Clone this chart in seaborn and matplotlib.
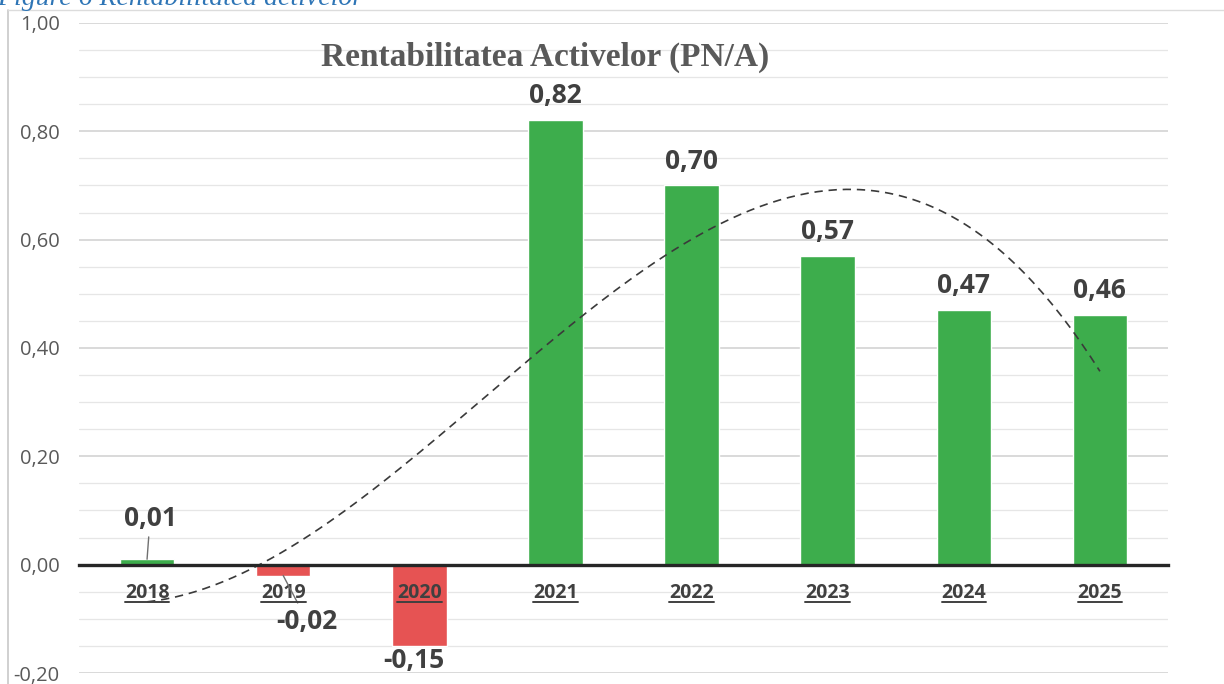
import numpy as np
import pandas as pd
import seaborn as sns
import matplotlib.pyplot as plt
from matplotlib.lines import Line2D
from matplotlib.ticker import MultipleLocator, FixedLocator, FuncFormatter

# data
years = ['2018', '2019', '2020', '2021', '2022', '2023', '2024', '2025']
roa = [0.01, -0.02, -0.15, 0.82, 0.70, 0.57, 0.47, 0.46]
value_labels = ['0,01', '-0,02', '-0,15', '0,82', '0,70', '0,57', '0,47', '0,46']

df = pd.DataFrame({'an': years, 'roa': roa})
df['semn'] = np.where(df['roa'] >= 0, 'pozitiv', 'negativ')

sns.set_theme(style='white')
plt.rcParams['font.family'] = ['Open Sans', 'DejaVu Sans']

W, H = 1224, 684
fig = plt.figure(figsize=(W / 100, H / 100), dpi=100)
fig.patch.set_facecolor('white')
ax = fig.add_axes([79 / W, 11 / H, 1089 / W, 650 / H])

green = '#3DAD4C'
red = '#E65353'
grey_txt = '#595959'
dark_txt = '#404040'

sns.barplot(data=df, x='an', y='roa', hue='semn',
            palette={'pozitiv': green, 'negativ': red},
            width=0.4, legend=False, dodge=False, ax=ax, saturation=1)

# polynomial trend line (order 3)
xs = np.arange(len(roa))
coef = np.polyfit(xs, roa, 3)
xx = np.linspace(xs[0], xs[-1], 200)
ax.plot(xx, np.polyval(coef, xx), color='#3a3a3a', lw=1.2,
        ls=(0, (5, 3.5)), zorder=3)

ax.set_xlim(-0.5, len(years) - 0.5)
ax.set_ylim(-0.2, 1.0)

# grid
ax.yaxis.set_major_locator(MultipleLocator(0.2))
ax.yaxis.set_minor_locator(MultipleLocator(0.05))
ax.grid(axis='y', which='major', color='#d0d0d0', lw=1.1)
ax.grid(axis='y', which='minor', color='#e6e6e6', lw=0.9)
ax.set_axisbelow(True)
ax.xaxis.set_zorder(5)
ax.yaxis.set_major_formatter(FuncFormatter(lambda v, p: f'{v:.2f}'.replace('.', ',')))
ax.tick_params(axis='y', which='both', length=0, pad=14, labelsize=14.5, labelcolor=grey_txt)

for s in ['top', 'right', 'left']:
    ax.spines[s].set_visible(False)
ax.spines['bottom'].set_position(('data', 0))
ax.spines['bottom'].set_color('#262626')
ax.spines['bottom'].set_linewidth(2.4)
ax.spines['bottom'].set_zorder(4)

ax.xaxis.set_minor_locator(FixedLocator(np.arange(-0.5, len(years), 1.0)))
ax.tick_params(axis='x', which='minor', length=5, width=2.4, color='#262626', direction='out')
ax.tick_params(axis='x', which='major', length=0, pad=13, labelcolor=dark_txt, labelsize=14)
for lab in ax.get_xticklabels():
    lab.set_fontweight('bold')
ax.set_xlabel('')
ax.set_ylabel('')

# data labels
lbl_kw = dict(fontsize=19, fontweight='bold', color=dark_txt, ha='center',
              textcoords='offset pixels', zorder=6)
for i, (v, t) in enumerate(zip(roa, value_labels)):
    if i == 0:
        ax.annotate(t, (i, v), xytext=(3, 27), va='bottom',
                    arrowprops=dict(arrowstyle='-', color='#707070', lw=1,
                                    shrinkA=1, shrinkB=0), **lbl_kw)
    elif i == 1:
        ax.annotate(t, (i, v), xytext=(24, -32), va='top',
                    arrowprops=dict(arrowstyle='-', color='#707070', lw=1,
                                    shrinkA=1, shrinkB=0), **lbl_kw)
    elif v < 0:
        ax.annotate(t, (i, v), xytext=(-5, -1), va='top', **lbl_kw)
    else:
        ax.annotate(t, (i, v), xytext=(0, 11), va='bottom', **lbl_kw)

# title and caption
fig.text(545 / W, 1 - 57 / H, 'Rentabilitatea Activelor (PN/A)',
         family=['Liberation Serif', 'DejaVu Serif'], fontweight='bold',
         fontsize=24, color=grey_txt, ha='center', va='center')
fig.text(-0.002, 1 - 5 / H, 'Figure 6 Rentabilitatea activelor',
         family=['Liberation Serif', 'DejaVu Serif'], style='italic',
         fontsize=20, color='#2E75B6', ha='left', va='baseline')

# chart frame (left + top edges of the pasted chart)
fig.add_artist(Line2D([8 / W, 8 / W], [0, 1 - 10 / H], color='#c8c8c8', lw=1.2))
fig.add_artist(Line2D([8 / W, 1], [1 - 10 / H, 1 - 10 / H], color='#dcdcdc', lw=1.0))

# underline the year labels
fig.canvas.draw()
for lab in ax.get_xticklabels():
    bb = lab.get_window_extent()
    y0 = (bb.y0 + 0.5) / H
    fig.add_artist(Line2D([bb.x0 / W, bb.x1 / W], [y0, y0], color=dark_txt, lw=1.4))

fig.savefig('out.png', dpi=100)
